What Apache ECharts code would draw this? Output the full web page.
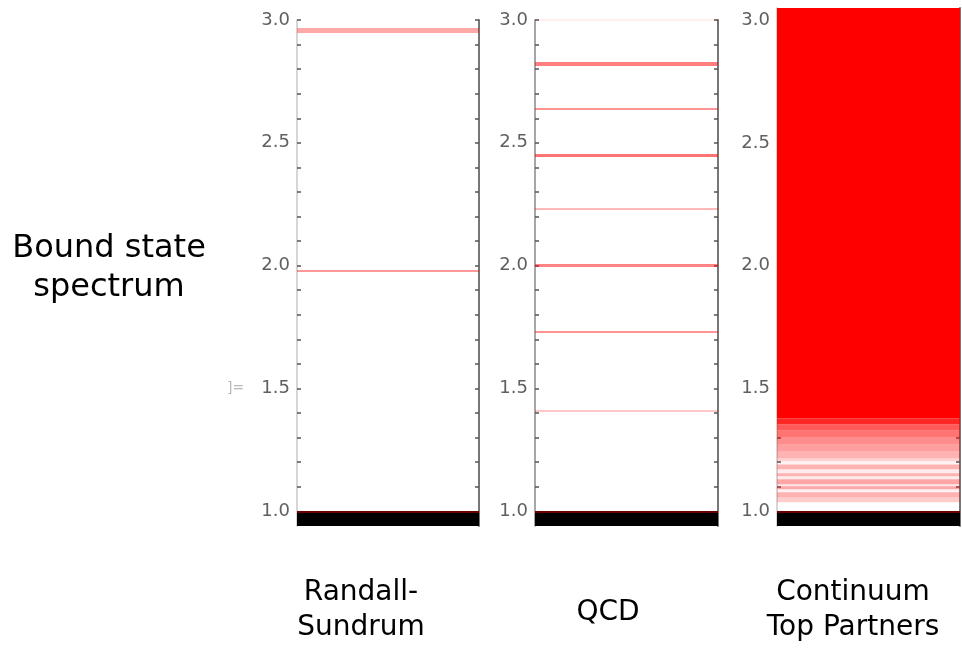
<!DOCTYPE html>
<html>
<head>
<meta charset="utf-8">
<script src="https://cdn.jsdelivr.net/npm/echarts@6/dist/echarts.min.js"></script>
<style>html,body{margin:0;padding:0;background:#fff}#c{width:962px;height:648px}</style>
</head>
<body>
<div id="c"></div>
<script>
// ---- data ----
var panelNames = ['Randall-\nSundrum', 'QCD', 'Continuum\nTop Partners'];
var yTickValues = [1.0,1.1,1.2,1.3,1.4,1.5,1.6,1.7,1.8,1.9,2.0,2.1,2.2,2.3,2.4,2.5,2.6,2.7,2.8,2.9,3.0];
var yLabelValues = [1.0, 1.5, 2.0, 2.5, 3.0];
var groundState = [0.94, 1.0];

var rsLevels = [1.979, 2.963];
var rsAlpha  = [0.40, 0.34];
var rsWidth  = [2, 5];

var qcdLevels = [1.414, 1.728, 1.995, 2.229, 2.447, 2.643, 2.824, 3.0];
var qcdAlpha  = [0.22, 0.42, 0.48, 0.28, 0.55, 0.42, 0.5, 0.06];
var qcdWidth  = [2, 2, 3, 2, 3, 2, 4, 2];

var contTop = 3.05;
var contBandEdges = [1.379,1.354,1.330,1.301,1.273,1.244,1.216,1.204,1.191,1.171,1.155,1.143,1.130,1.110,1.102,1.090,1.077,1.057,1.037];
var contBandAlpha = [0.85,0.65,0.55,0.45,0.38,0.3,0.18,0.05,0.3,0.08,0.3,0.08,0.35,0.1,0.35,0.05,0.3,0.2];

// ---- chart ----
var FONT = '"DejaVu Sans", sans-serif';
var grids = [
  {left: 297, width: 182, top: 20, height: 506},
  {left: 535, width: 183, top: 20, height: 506},
  {left: 777, width: 183, top: 8, height: 518}
];
var yMax = [3.0, 3.0, contTop];
var leftAxisColor = ['#c8c8c8', '#888', '#c8c8c8'];

var xAxes = [], yAxes = [], series = [];
grids.forEach(function (g, i) {
  xAxes.push({gridIndex: i, type: 'value', min: 0, max: 1, show: false});
  yAxes.push({
    gridIndex: i, type: 'value', position: 'left', min: groundState[0], max: yMax[i],
    axisLine: {show: true, lineStyle: {color: leftAxisColor[i], width: 1.5}},
    axisTick: {show: true, inside: true, length: 4, customValues: yTickValues, lineStyle: {color: '#555', width: 1.5}},
    axisLabel: {show: true, customValues: yLabelValues, margin: 7, color: '#606060', fontSize: 18, fontFamily: FONT,
      formatter: function (v) { return v.toFixed(1); }},
    splitLine: {show: false}
  });
  yAxes.push({
    gridIndex: i, type: 'value', position: 'right', min: groundState[0], max: yMax[i],
    axisLine: {show: true, lineStyle: {color: '#777', width: 2}},
    axisTick: {show: true, inside: true, length: 4, customValues: yTickValues, lineStyle: {color: '#555', width: 1.5}},
    axisLabel: {show: false},
    splitLine: {show: false}
  });
});

function levelLines(levels, alpha, width) {
  return levels.map(function (v, k) {
    return {yAxis: v, lineStyle: {color: 'rgba(255,0,0,' + alpha[k] + ')', width: width[k], type: 'solid'}};
  });
}
function groundArea() {
  return [[{yAxis: groundState[0], itemStyle: {color: '#000'}}, {yAxis: groundState[1]}]];
}
var groundEdge = {yAxis: groundState[1] - 0.004, lineStyle: {color: '#6a0000', width: 2, type: 'solid'}};

var panelLines = [
  levelLines(rsLevels, rsAlpha, rsWidth),
  levelLines(qcdLevels, qcdAlpha, qcdWidth),
  []
];

grids.forEach(function (g, i) {
  var areas = groundArea();
  if (i === 2) {
    areas.push([{yAxis: contBandEdges[0], itemStyle: {color: '#ff0000'}}, {yAxis: contTop}]);
    for (var k = 0; k < contBandAlpha.length; k++) {
      areas.push([{yAxis: contBandEdges[k + 1], itemStyle: {color: 'rgba(255,0,0,' + contBandAlpha[k] + ')'}}, {yAxis: contBandEdges[k]}]);
    }
  }
  series.push({
    type: 'line', xAxisIndex: i, yAxisIndex: 2 * i, data: [], silent: true, animation: false,
    markArea: {silent: true, animation: false, label: {show: false}, data: areas},
    markLine: {silent: true, animation: false, symbol: ['none', 'none'], label: {show: false},
      data: panelLines[i].concat([groundEdge])}
  });
});

var labelCenters = [361, 608, 853];
var graphics = [
  {type: 'text', x: 109, y: 229, style: {text: 'Bound state\nspectrum', align: 'center', verticalAlign: 'top',
    fontSize: 32, fontFamily: FONT, fill: '#000', lineHeight: 39}},
  {type: 'text', x: 227, y: 381, style: {text: ']=', align: 'left', verticalAlign: 'top',
    fontSize: 14, fontFamily: FONT, fill: '#b8b8b8'}}
];
panelNames.forEach(function (n, i) {
  var lines = n.split('\n').length;
  graphics.push({type: 'text', x: labelCenters[i], y: lines === 1 ? 595 : 575,
    style: {text: n, align: 'center', verticalAlign: 'top', fontSize: 28, fontFamily: FONT, fill: '#000', lineHeight: 35}});
});

var chart = echarts.init(document.getElementById('c'));
chart.setOption({
  animation: false,
  backgroundColor: '#fff',
  grid: grids,
  xAxis: xAxes,
  yAxis: yAxes,
  series: series,
  graphic: graphics
});
</script>
</body>
</html>
